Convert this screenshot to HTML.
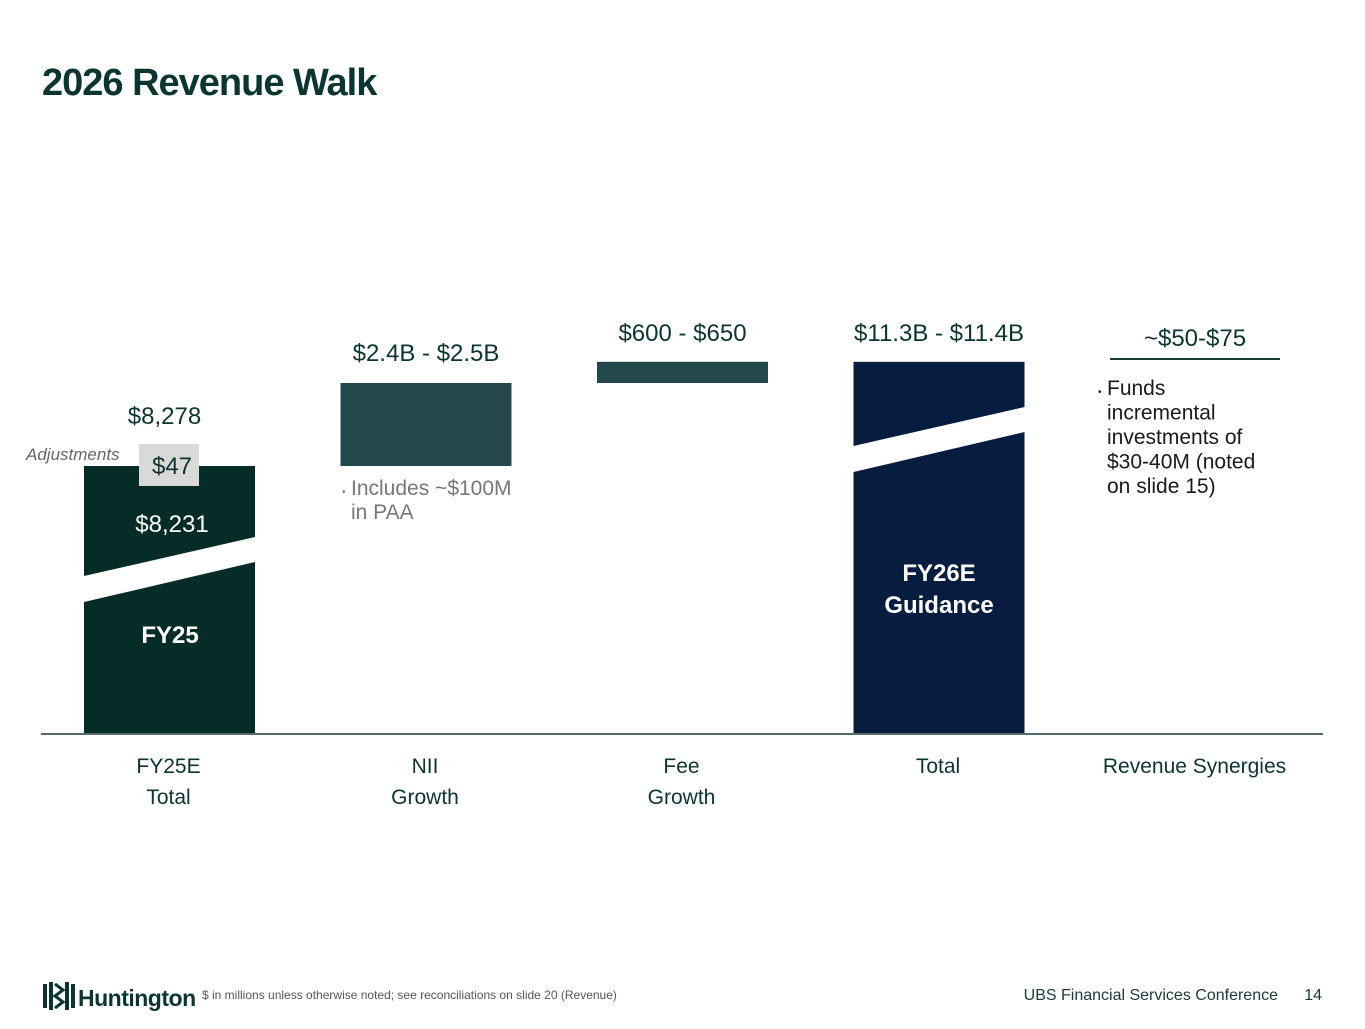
<!DOCTYPE html>
<html><head><meta charset="utf-8"><style>
body{margin:0;background:#fff;width:1365px;height:1024px;overflow:hidden;font-family:"Liberation Sans",sans-serif}
svg text{font-family:"Liberation Sans",sans-serif}
</style></head><body>
<svg width="1365" height="1024" viewBox="0 0 1365 1024">
<text x="42" y="95" font-size="38" font-weight="bold" fill="#0b3530" letter-spacing="-1">2026 Revenue Walk</text>
<g id="chart"></g>
<line x1="41" y1="734" x2="1323" y2="734" stroke="#1d3a36" stroke-width="1.5"/>
<text x="26" y="460" font-size="17" font-style="italic" fill="#666">Adjustments</text>
<text x="1110" y="395" font-size="21" fill="#1a1a1a"><tspan x="1098" font-size="10">•</tspan><tspan x="1107">Funds</tspan><tspan x="1107" dy="24.5">incremental</tspan><tspan x="1107" dy="24.5">investments of</tspan><tspan x="1107" dy="24.5">$30-40M (noted</tspan><tspan x="1107" dy="24.5">on slide 15)</tspan></text>
<text font-size="21" fill="#777"><tspan x="342" y="495" font-size="10">•</tspan><tspan x="351" y="495">Includes ~$100M</tspan><tspan x="351" y="519">in PAA</tspan></text>
<line x1="1110" y1="359" x2="1280" y2="359" stroke="#1d3a36" stroke-width="2"/>
<text x="1195" y="346" font-size="24" text-anchor="middle" fill="#0b3530">~$50-$75</text>
<g>
<rect x="43" y="984" width="4" height="24" fill="#0b3530"/><rect x="49" y="982" width="4" height="28" fill="#0b3530"/>
<path d="M55 984 L63 990 L55 996 L63 1002 L55 1008" stroke="#0b3530" stroke-width="3" fill="none"/>
<rect x="65" y="982" width="4" height="28" fill="#0b3530"/><rect x="71" y="984" width="4" height="24" fill="#0b3530"/>
<text x="78" y="1006" font-size="23" font-weight="bold" fill="#0b3530" letter-spacing="-0.5">Huntington</text>
</g>
<text x="202" y="999" font-size="12" fill="#555">$ in millions unless otherwise noted; see reconciliations on slide 20 (Revenue)</text>
<text x="1278" y="1000" font-size="16" text-anchor="end" fill="#1a3a36">UBS Financial Services Conference</text>
<text x="1322" y="1000" font-size="16" text-anchor="end" fill="#1a3a36">14</text>
</svg>
<script>
const categories = ["FY25E|Total","NII|Growth","Fee|Growth","Total","Revenue Synergies"];
const stepValues = [8278, 2450, 625, 11353];
const valueLabels = ["$8,278","$2.4B - $2.5B","$600 - $650","$11.3B - $11.4B"];
const adjustment = 47;
const baseValue = 8231;
const NS="http://www.w3.org/2000/svg";
const g=document.getElementById('chart');
const x0=84, step=256.5, bw=171, baseY=733;
const k=83/2450, refV=8278, refY=466;
function y(v){return refY-(v-refV)*k;}
function xc(i){return x0+i*step;}
function el(t,a,p){const e=document.createElementNS(NS,t);for(const n in a)e.setAttribute(n,a[n]);(p||g).appendChild(e);return e;}
const colors=["#062c28","#23474a","#23474a","#061d40"];
let cum=0;
stepValues.forEach((v,i)=>{
  let top,bot;
  if(i===0){top=y(v);bot=baseY;cum=v;}
  else if(i===3){top=y(cum);bot=baseY;}
  else{bot=y(cum);cum+=v;top=y(cum);}
  const r=el('rect',{x:xc(i),y:top,width:bw,height:bot-top,fill:colors[i]});
  
  
  const t=el('text',{x:xc(i)+bw/2+(i===0?-5:0),y:top-(i===0?42:(i===1?22:21)),'font-size':24,'text-anchor':'middle',fill:'#0b3530'});
  t.textContent=valueLabels[i];
  
  
});
// axis break bands
function band(i,yt){const x=xc(i);const p=el('polygon',{points:`${x},${yt} ${x+bw},${yt-39} ${x+bw},${yt-14} ${x},${yt+26}`,fill:'#fff'});

}
band(0,576);band(3,446);
// adjustment box
const ay=y(refV);
const ab=el('rect',{x:139,y:ay-22,width:60,height:42,fill:'#d9d9d9'});


const at=el('text',{x:172,y:ay+8,'font-size':24,'text-anchor':'middle',fill:'#0b3530'});at.textContent='$'+adjustment;


const bt=el('text',{x:172,y:532,'font-size':24,'text-anchor':'middle',fill:'#fff'});bt.textContent='$'+baseValue.toLocaleString('en-US');


const f1=el('text',{x:170,y:643,'font-size':24,'font-weight':'bold','text-anchor':'middle',fill:'#fff'});f1.textContent='FY25';


const f2=el('text',{x:939,y:581,'font-size':24,'font-weight':'bold','text-anchor':'middle',fill:'#fff'});


el('tspan',{x:939},f2).textContent='FY26E';el('tspan',{x:939,dy:32},f2).textContent='Guidance';
categories.forEach((c,i)=>{
  const t=el('text',{x:xc(i)+bw/2-(i===0?1:0)+(i===4?0:0),y:773,'font-size':21,'text-anchor':'middle',fill:'#0b3530'});
  c.split('|').forEach((s,j)=>{el('tspan',{x:xc(i)+bw/2-1,dy:j?31:0},t).textContent=s;});
  
  
});
</script>
</body></html>
